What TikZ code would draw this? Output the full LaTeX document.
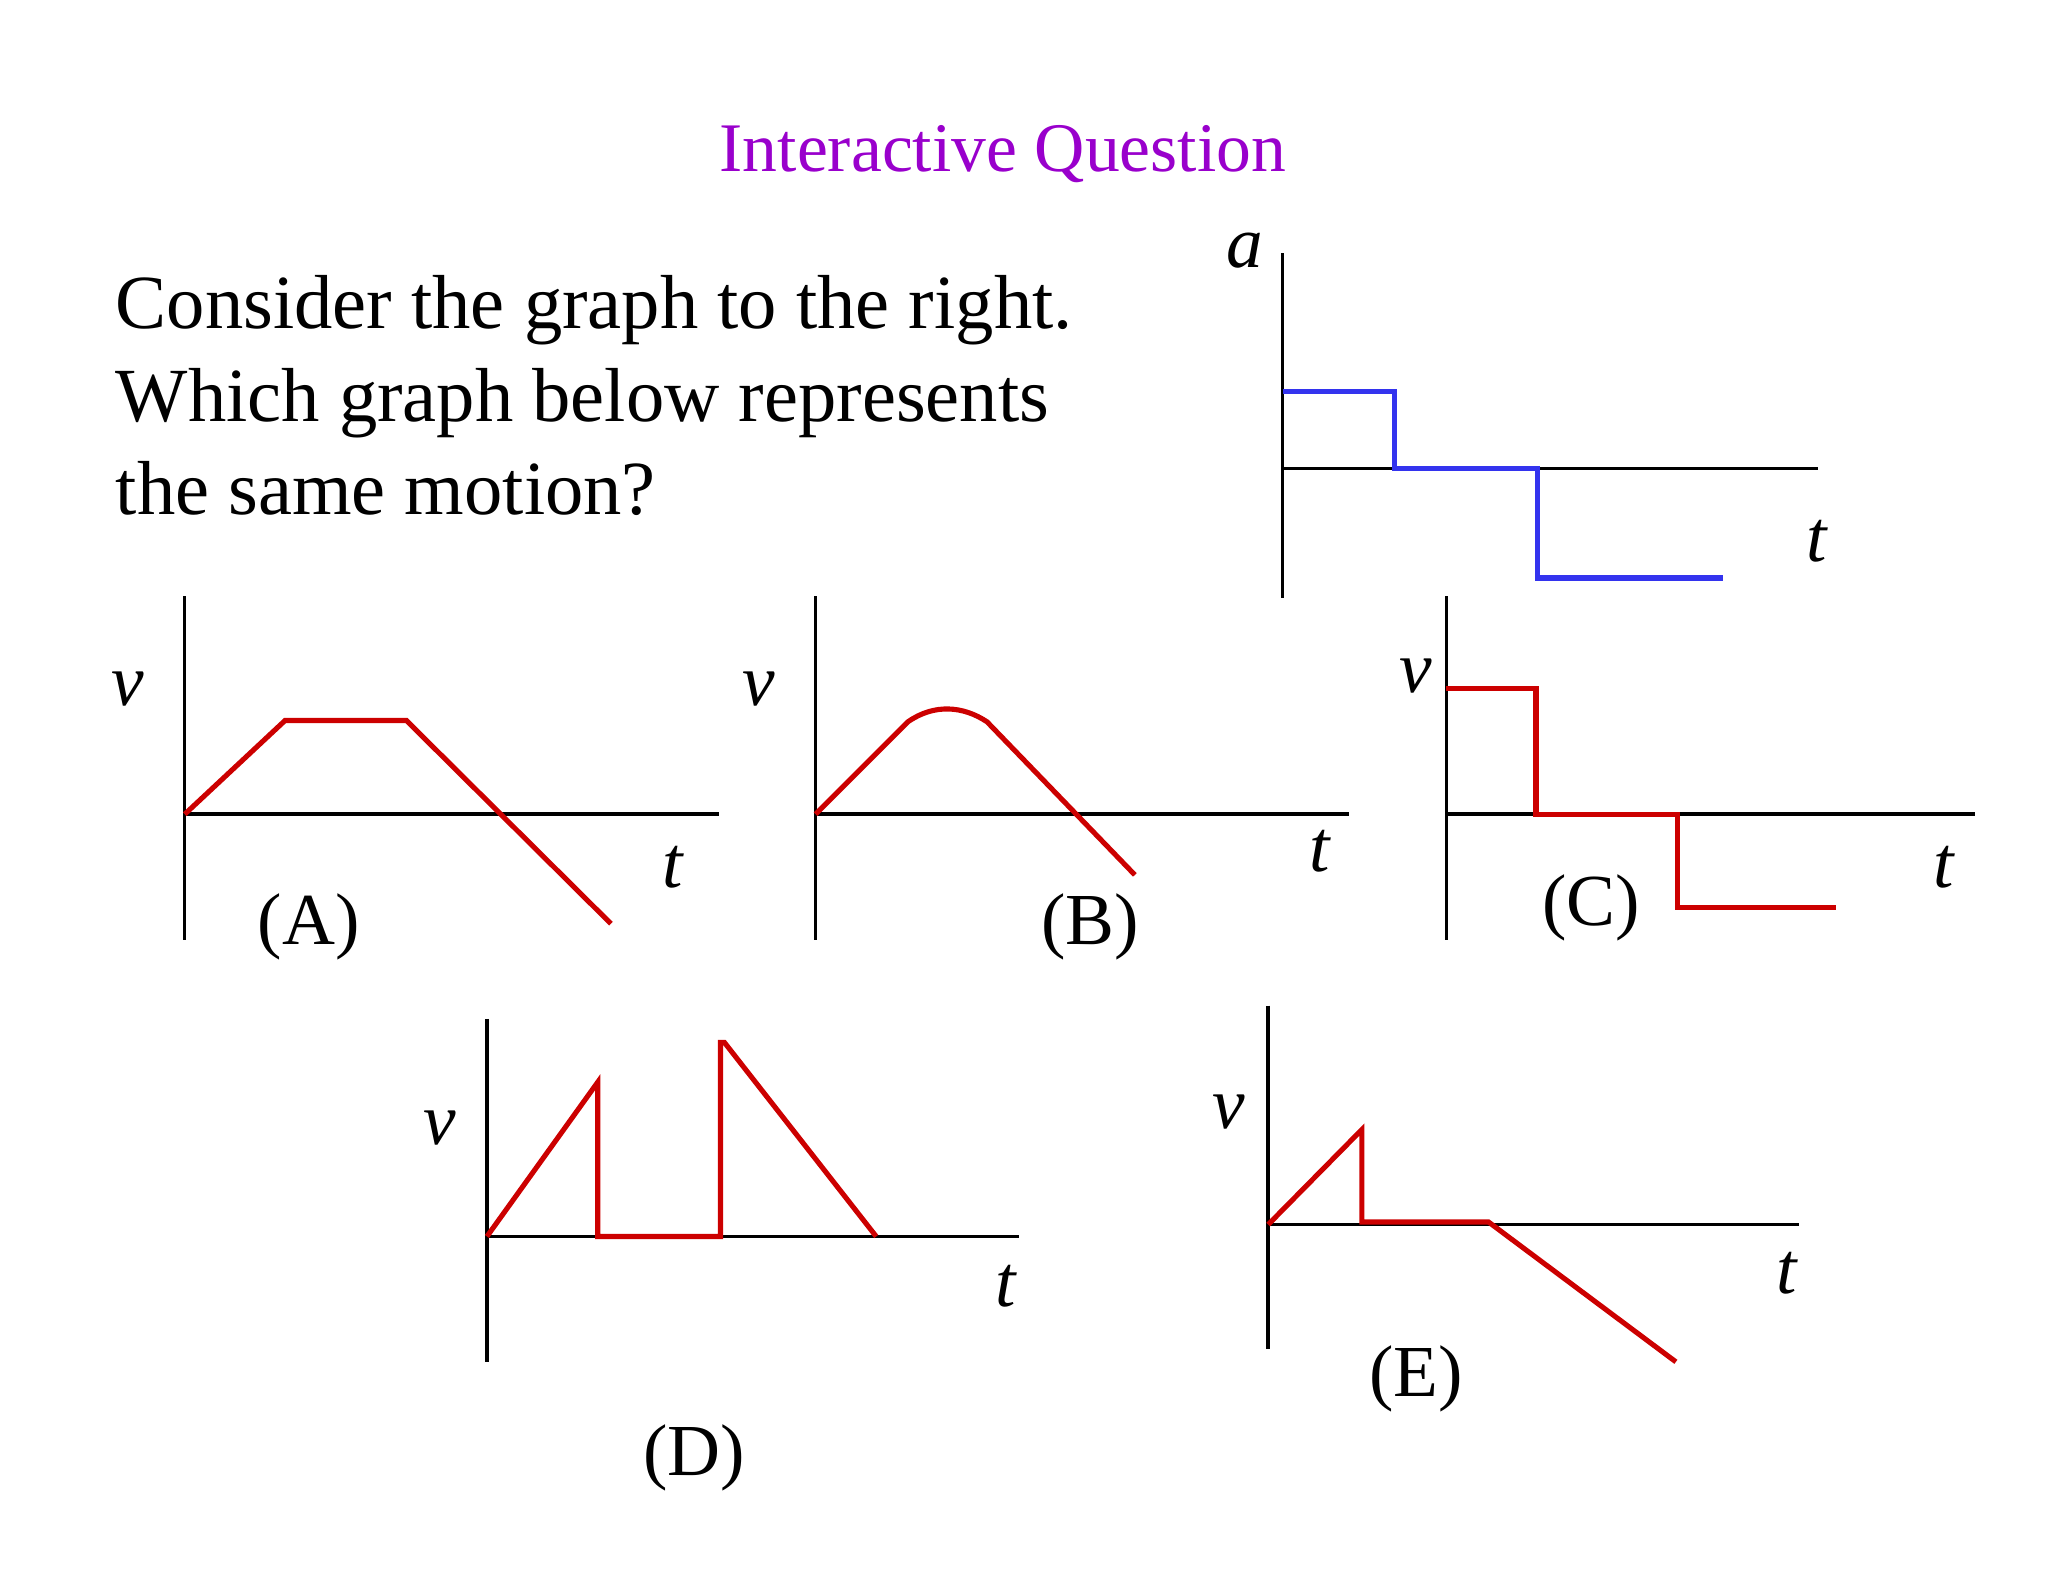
\documentclass[tikz,border=0pt]{standalone}
\usepackage{fontspec}
\setmainfont{Liberation Serif}
\begin{document}
\begin{tikzpicture}[x=0.01cm,y=-0.01cm,
 ax/.style={line width=0.75pt,black},
 rl/.style={line width=1.1pt,color={rgb,255:red,204;green,0;blue,0}},
 bl/.style={line width=1.1pt,color={rgb,255:red,51;green,51;blue,238}},
 lab/.style={font=\fontsize{15.8pt}{18pt}\selectfont,inner sep=0pt},
 var/.style={font=\fontsize{15.8pt}{18pt}\selectfont\itshape,inner sep=0pt}]
\useasboundingbox (0,0) rectangle (1552,1199);
\node[inner sep=0pt,font=\fontsize{15pt}{18pt}\selectfont,color={rgb,255:red,153;green,0;blue,204}] (title) at (760,117) {Interactive Question};
\node[anchor=north west,inner sep=0pt,align=left,font=\fontsize{16.5pt}{20pt}\selectfont] (q) at (87,208) {Consider the graph to the right.\\Which graph below represents\\the same motion?};
% a graph
\draw[ax] (972,192) -- (972,453); \draw[ax] (972,355) -- (1378,355);
\draw[bl] (972,297) -- (1057,297) -- (1057,355) -- (1165,355) -- (1165,438) -- (1306,438);
\node[var] (la) at (943,190) {a}; \node[var] (lta) at (1377,410) {t};
% A
\draw[ax] (140,452) -- (140,712); \draw[ax] (140,617) -- (545,617);
\draw[rl] (140,617) -- (216,546) -- (308,546) -- (463,700);
\node[var] (vA) at (97,522) {v}; \node[var] (tA) at (510,657) {t}; \node[lab] (A) at (234,702) {(A)};
% B
\draw[ax] (618,452) -- (618,712); \draw[ax] (618,617) -- (1022,617);
\draw[rl] (618,617) -- (688,547) .. controls (708,533) and (730,535) .. (748,547) -- (860,663);
\node[var] (vB) at (575,522) {v}; \node[var] (tB) at (1000,645) {t}; \node[lab] (B) at (826,702) {(B)};
% C
\draw[ax] (1096,452) -- (1096,712); \draw[ax] (1096,617) -- (1497,617);
\draw[rl] (1096,522) -- (1164,522) -- (1164,617) -- (1271,617) -- (1271,688) -- (1391,688);
\node[var] (vC) at (1073,512) {v}; \node[var] (tC) at (1473,657) {t}; \node[lab] (C) at (1206,688) {(C)};
% D
\draw[ax] (369,772) -- (369,1032); \draw[ax] (369,937) -- (772,937);
\draw[rl] (369,937) -- (453,820) -- (453,937) -- (546,937) -- (546,790) -- (549,790) -- (664,937);
\node[var] (vD) at (333,855) {v}; \node[var] (tD) at (762,975) {t}; \node[lab] (D) at (526,1105) {(D)};
% E
\draw[ax] (961,762) -- (961,1022); \draw[ax] (961,928) -- (1363,928);
\draw[rl] (961,928) -- (1032,856) -- (1032,926) -- (1128,926) -- (1270,1032);
\node[var] (vE) at (931,843) {v}; \node[var] (tE) at (1354,965) {t}; \node[lab] (E) at (1073,1045) {(E)};
\end{tikzpicture}
\end{document}
